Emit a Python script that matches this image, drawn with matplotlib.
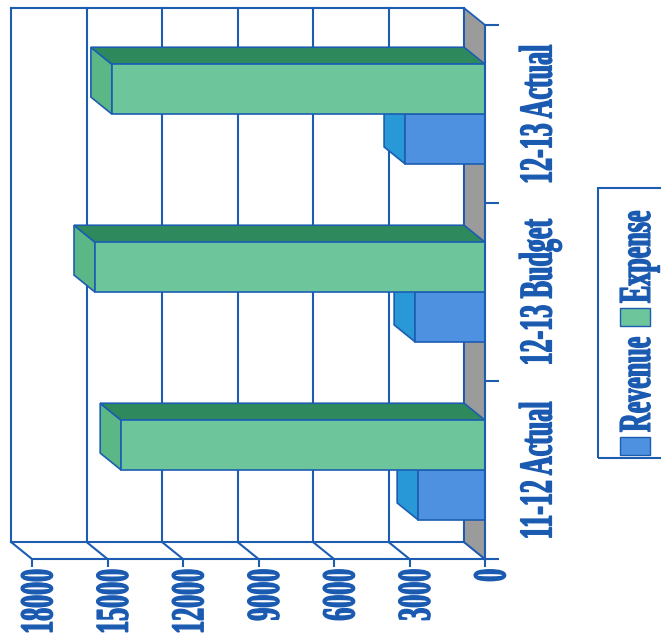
import matplotlib
matplotlib.use("Agg")
import matplotlib.pyplot as plt
from matplotlib.patches import Polygon, Rectangle
from matplotlib.patheffects import AbstractPathEffect
from matplotlib.transforms import Affine2D

# data
categories = ["11-12 Actual", "12-13 Budget", "12-13 Actual"]
revenue = [2660, 2780, 3180]
expense = [14460, 15500, 14830]
value_ticks = [0, 3000, 6000, 9000, 12000, 15000, 18000]
series_names = ["Revenue", "Expense"]

# style
line_blue = "#1c5db2"
text_blue = "#1a5ab0"
rev_colors = {"front": "#4d91e0", "end": "#2898d6", "top": "#2a6fbf"}
exp_colors = {"front": "#6dc59c", "end": "#5bb886", "top": "#2e8a5c"}
floor_color = "#9b9b9b"
depth_x = 830      # 3d depth, in value units
depth_y = 0.095    # 3d depth, in category units
bar_h = 0.28
fs = 18.7
font = dict(family="Liberation Serif", fontweight="bold", color=text_blue)


class Stretch(AbstractPathEffect):
    """stretch glyphs vertically and thicken them (condensed heavy look of the original font)"""

    def __init__(self, sy, y0=0.0, lw=0.7):
        super().__init__()
        self.sy = sy
        self.y0 = y0
        self.lw = lw

    def draw_path(self, renderer, gc, tpath, affine, rgbFace=None):
        t = Affine2D().translate(0, -self.y0).scale(1, self.sy).translate(0, self.y0) + affine
        gc0 = renderer.new_gc()
        gc0.copy_properties(gc)
        gc0.set_linewidth(renderer.points_to_pixels(self.lw))
        gc0.set_foreground(rgbFace)
        gc0.set_joinstyle("round")
        renderer.draw_path(gc0, tpath, t, rgbFace)
        gc0.restore()


fig = plt.figure(figsize=(6.61, 6.39), dpi=100)
ax = fig.add_axes([32 / 661, 1 - 559 / 639, 453 / 661, 534 / 639])
ax.set_xlim(value_ticks[-1], 0)
ax.set_ylim(-0.5, len(categories) - 0.5)
ax.patch.set_visible(False)

y_lo, y_hi = -0.5, len(categories) - 0.5
vmax = value_ticks[-1]

# back wall
for v in value_ticks:
    ax.plot([v + depth_x, v + depth_x], [y_lo + depth_y, y_hi + depth_y],
            color=line_blue, lw=1.5, clip_on=False, zorder=1)
    # side wall diagonals
    ax.plot([v + depth_x, v], [y_lo + depth_y, y_lo],
            color=line_blue, lw=1.5, clip_on=False, zorder=1)
for yy in [y_lo + depth_y, y_hi + depth_y]:
    ax.plot([depth_x, vmax + depth_x], [yy, yy], color=line_blue, lw=1.5,
            clip_on=False, zorder=1)

# floor
ax.add_patch(Polygon([(0, y_lo), (0, y_hi), (depth_x, y_hi + depth_y), (depth_x, y_lo + depth_y)],
                     closed=True, facecolor=floor_color, edgecolor=line_blue, lw=1.3,
                     clip_on=False, zorder=2))


def draw_bar(y0, v, cols, z):
    ax.barh(y0, v, height=bar_h, left=0, align="edge", color=cols["front"],
            edgecolor=line_blue, linewidth=1.2, zorder=z + 0.2, clip_on=False)
    end = [(v, y0), (v, y0 + bar_h), (v + depth_x, y0 + bar_h + depth_y), (v + depth_x, y0 + depth_y)]
    top = [(0, y0 + bar_h), (v, y0 + bar_h), (v + depth_x, y0 + bar_h + depth_y),
           (depth_x, y0 + bar_h + depth_y)]
    ax.add_patch(Polygon(end, closed=True, facecolor=cols["end"], edgecolor=line_blue,
                         lw=1.2, zorder=z, clip_on=False))
    ax.add_patch(Polygon(top, closed=True, facecolor=cols["top"], edgecolor=line_blue,
                         lw=1.2, zorder=z, clip_on=False))


z = 3
for i in range(len(categories)):
    draw_bar(i - bar_h, revenue[i], rev_colors, z)
    draw_bar(i, expense[i], exp_colors, z + 1)
    z += 2

# axes lines
for s in ["top", "left"]:
    ax.spines[s].set_visible(False)
for s in ["bottom", "right"]:
    ax.spines[s].set_color(line_blue)
    ax.spines[s].set_linewidth(1.5)
    ax.spines[s].set_zorder(20)

ax.set_xticks(value_ticks)
ax.set_xticklabels([str(v) for v in value_ticks], rotation=90, fontsize=fs, **font)
ax.tick_params(axis="x", direction="out", length=6, width=1.5, color=line_blue, pad=1)

ax.yaxis.tick_right()
ax.set_yticks([c - 0.5 for c in range(len(categories) + 1)])
ax.set_yticklabels([])
ax.set_yticks(range(len(categories)), minor=True)
ax.set_yticklabels(categories, minor=True, rotation=90, va="center", fontsize=fs, **font)
ax.tick_params(axis="y", which="major", direction="out", length=10, width=1.5, color=line_blue)
ax.tick_params(axis="y", which="minor", length=0, pad=25)

for lab in ax.get_xticklabels() + ax.get_yticklabels(minor=True):
    lab.set_path_effects([Stretch(1.8, 66)])

# legend (rotated like the rest of the page)
fig.add_artist(Rectangle((598 / 661, 1 - 458 / 639), 0.2, 270 / 639, transform=fig.transFigure,
                         fill=False, edgecolor=line_blue, lw=1.5))
leg_y = [432, 303]
for name, cols, yy in zip(series_names, [rev_colors, exp_colors], leg_y):
    fig.add_artist(Rectangle((620 / 661, 1 - (yy + 23) / 639), 30 / 661, 18 / 639,
                             transform=fig.transFigure, facecolor=cols["front"],
                             edgecolor=line_blue, lw=1))
    t = fig.text(619 / 661, 1 - yy / 639, name, rotation=90, ha="left", va="bottom",
                 fontsize=fs, **font)
    t.set_path_effects([Stretch(1.75, 66)])

fig.savefig("out.png", dpi=100)
